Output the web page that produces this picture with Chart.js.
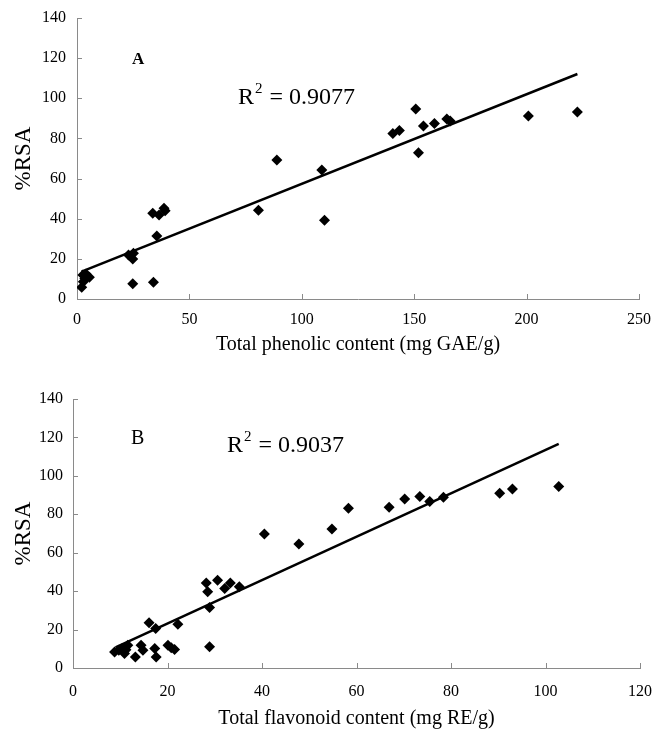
<!DOCTYPE html>
<html>
<head>
<meta charset="utf-8">
<script src="https://cdn.jsdelivr.net/npm/chart.js@4.4.1/dist/chart.umd.min.js"></script>
<style>
  html, body { margin: 0; padding: 0; background: #fff; }
  #wrap { position: relative; width: 654px; height: 732px; }
  canvas { position: absolute; left: 0; }
</style>
</head>
<body>
<div id="wrap">
  <canvas id="chartA" width="654" height="365" style="top:0"></canvas>
  <canvas id="chartB" width="654" height="367" style="top:365px"></canvas>
</div>
<script>
// panel A: total phenolic content vs %RSA
const phenolic = [2.1, 2.6, 4.0, 5.5, 2.8, 3.5, 22.9, 25.1, 24.8, 24.8, 34.0, 33.7, 36.5, 35.5, 38.7, 39.2,
  80.7, 88.9, 108.9, 110.1, 140.5, 143.4, 150.7, 151.9, 154.1, 159.0, 164.5, 166.0, 200.8, 222.6];
const rsaA = [5.8, 12.0, 12.5, 10.8, 8.6, 10.2, 21.9, 22.8, 19.9, 7.6, 8.3, 42.7, 41.9, 31.4, 45.2, 44.0,
  44.2, 69.3, 64.3, 39.2, 82.5, 83.9, 94.7, 72.9, 86.2, 87.5, 89.7, 88.7, 91.2, 93.2];
const trendAx = [2.0, 222.6];
const trendAy = [13.6, 112.1];
const xTicksA = [0, 50, 100, 150, 200, 250];

// panel B: total flavonoid content vs %RSA
const flavonoid = [8.8, 9.7, 10.4, 10.9, 11.6, 11.2, 13.2, 14.4, 14.8, 16.1, 17.5, 17.3, 17.6, 20.1, 21.5, 20.8,
  22.2, 28.2, 28.5, 28.9, 28.9, 30.6, 32.1, 33.3, 35.2, 40.5, 47.8, 54.8, 58.3, 66.9, 70.2, 73.4, 75.5, 78.4,
  90.3, 93.0, 102.8];
const rsaB = [8.3, 9.2, 10.1, 7.5, 11.8, 9.5, 5.7, 11.8, 9.2, 23.5, 20.6, 10.1, 5.7, 11.8, 9.6, 10.5,
  22.8, 44.3, 39.7, 31.5, 11.0, 45.7, 41.4, 44.3, 42.3, 69.7, 64.5, 72.4, 83.1, 83.7, 88.0, 89.2, 86.6, 88.9,
  91.0, 93.1, 94.4];
const trendBx = [9.0, 102.8];
const trendBy = [10.7, 116.7];
const xTicksB = [0, 20, 40, 60, 80, 100, 120];

const yTicks = [0, 20, 40, 60, 80, 100, 120, 140];

const serif = '"Liberation Serif", "Times New Roman", serif';
const axisGrey = '#8a8a8a';

function pts(xs, ys) {
  return xs.map((x, i) => ({ x: x, y: ys[i] }));
}

// excel style tick marks pointing into the plot
const insideTicks = {
  id: 'insideTicks',
  afterDraw(chart) {
    const { ctx, chartArea: a, scales } = chart;
    ctx.save();
    ctx.strokeStyle = axisGrey;
    ctx.lineWidth = 1;
    ctx.beginPath();
    scales.x.ticks.forEach(t => {
      const px = Math.round(scales.x.getPixelForValue(t.value)) + 0.5;
      ctx.moveTo(px, a.bottom);
      ctx.lineTo(px, a.bottom - 5);
    });
    scales.y.ticks.forEach(t => {
      const py = Math.round(scales.y.getPixelForValue(t.value)) + 0.5;
      ctx.moveTo(a.left, py);
      ctx.lineTo(a.left + 5, py);
    });
    ctx.stroke();
    ctx.restore();
  }
};

// panel letter and R squared note
const panelText = {
  id: 'panelText',
  afterDatasetsDraw(chart, args, o) {
    const ctx = chart.ctx;
    ctx.save();
    ctx.fillStyle = '#000';
    ctx.textBaseline = 'alphabetic';
    ctx.font = (o.bold ? 'bold ' : '') + o.letterSize + 'px ' + serif;
    ctx.fillText(o.letter, o.letterX, o.letterY);
    ctx.font = '24px ' + serif;
    let x = o.r2X;
    ctx.fillText('R', x, o.r2Y);
    x += ctx.measureText('R').width;
    ctx.font = '15px ' + serif;
    ctx.fillText('2', x + 1, o.r2Y - 11);
    x += ctx.measureText('2').width + 2;
    ctx.font = '24px ' + serif;
    ctx.fillText(' = ' + o.r2, x, o.r2Y);
    ctx.restore();
  }
};

function makeChart(id, xs, ys, tx, ty, xMax, xTicks, xTitle, layout, text) {
  return new Chart(document.getElementById(id), {
    type: 'scatter',
    data: {
      datasets: [{
        data: pts(xs, ys),
        pointStyle: 'rectRot',
        pointRadius: 5.5,
        pointHoverRadius: 5.5,
        backgroundColor: '#000',
        borderColor: '#000',
        borderWidth: 0
      }, {
        data: pts(tx, ty),
        showLine: true,
        pointRadius: 0,
        borderColor: '#000',
        borderWidth: 2.5,
        fill: false
      }]
    },
    options: {
      responsive: false,
      animation: false,
      events: [],
      layout: { padding: layout.padding },
      plugins: {
        legend: { display: false },
        tooltip: { enabled: false },
        panelText: text
      },
      scales: {
        x: {
          type: 'linear',
          min: 0,
          max: xMax,
          afterBuildTicks: s => { s.ticks = xTicks.map(v => ({ value: v })); },
          afterFit: s => {
            s.height = layout.xHeight;
            s.paddingLeft = 0;
            s.paddingRight = 0;
          },
          grid: { display: false, drawTicks: false },
          border: { display: true, color: axisGrey, width: 1 },
          ticks: {
            color: '#000',
            padding: layout.xPad,
            maxRotation: 0,
            font: { family: serif, size: 16 }
          },
          title: {
            display: true,
            text: xTitle,
            color: '#000',
            padding: { top: layout.xTitlePad, bottom: 0 },
            font: { family: serif, size: 20 }
          }
        },
        y: {
          type: 'linear',
          min: 0,
          max: 140,
          afterBuildTicks: s => { s.ticks = yTicks.map(v => ({ value: v })); },
          afterFit: s => {
            s.width = layout.yWidth;
            s.paddingTop = 0;
            s.paddingBottom = 0;
          },
          grid: { display: false, drawTicks: false },
          border: { display: true, color: axisGrey, width: 1 },
          ticks: {
            color: '#000',
            padding: layout.yPad,
            font: { family: serif, size: 16 }
          },
          title: {
            display: true,
            text: '%RSA',
            color: '#000',
            padding: { top: 10, bottom: 0 },
            font: { family: serif, size: 23 }
          }
        }
      }
    },
    plugins: [insideTicks, panelText]
  });
}

makeChart('chartA', phenolic, rsaA, trendAx, trendAy, 250, xTicksA,
  'Total phenolic content (mg GAE/g)',
  { padding: { left: 0, top: 18, right: 15, bottom: 8 }, xHeight: 58, yWidth: 77, xPad: 11, yPad: 11, xTitlePad: 3 },
  { letter: 'A', bold: true, letterSize: 17, letterX: 132, letterY: 64, r2: '0.9077', r2X: 238, r2Y: 104 });

makeChart('chartB', flavonoid, rsaB, trendBx, trendBy, 120, xTicksB,
  'Total flavonoid content (mg RE/g)',
  { padding: { left: 0, top: 34, right: 14, bottom: 1 }, xHeight: 63, yWidth: 73, xPad: 14, yPad: 10, xTitlePad: 0 },
  { letter: 'B', bold: false, letterSize: 20, letterX: 131, letterY: 79, r2: '0.9037', r2X: 227, r2Y: 87 });
</script>
</body>
</html>
